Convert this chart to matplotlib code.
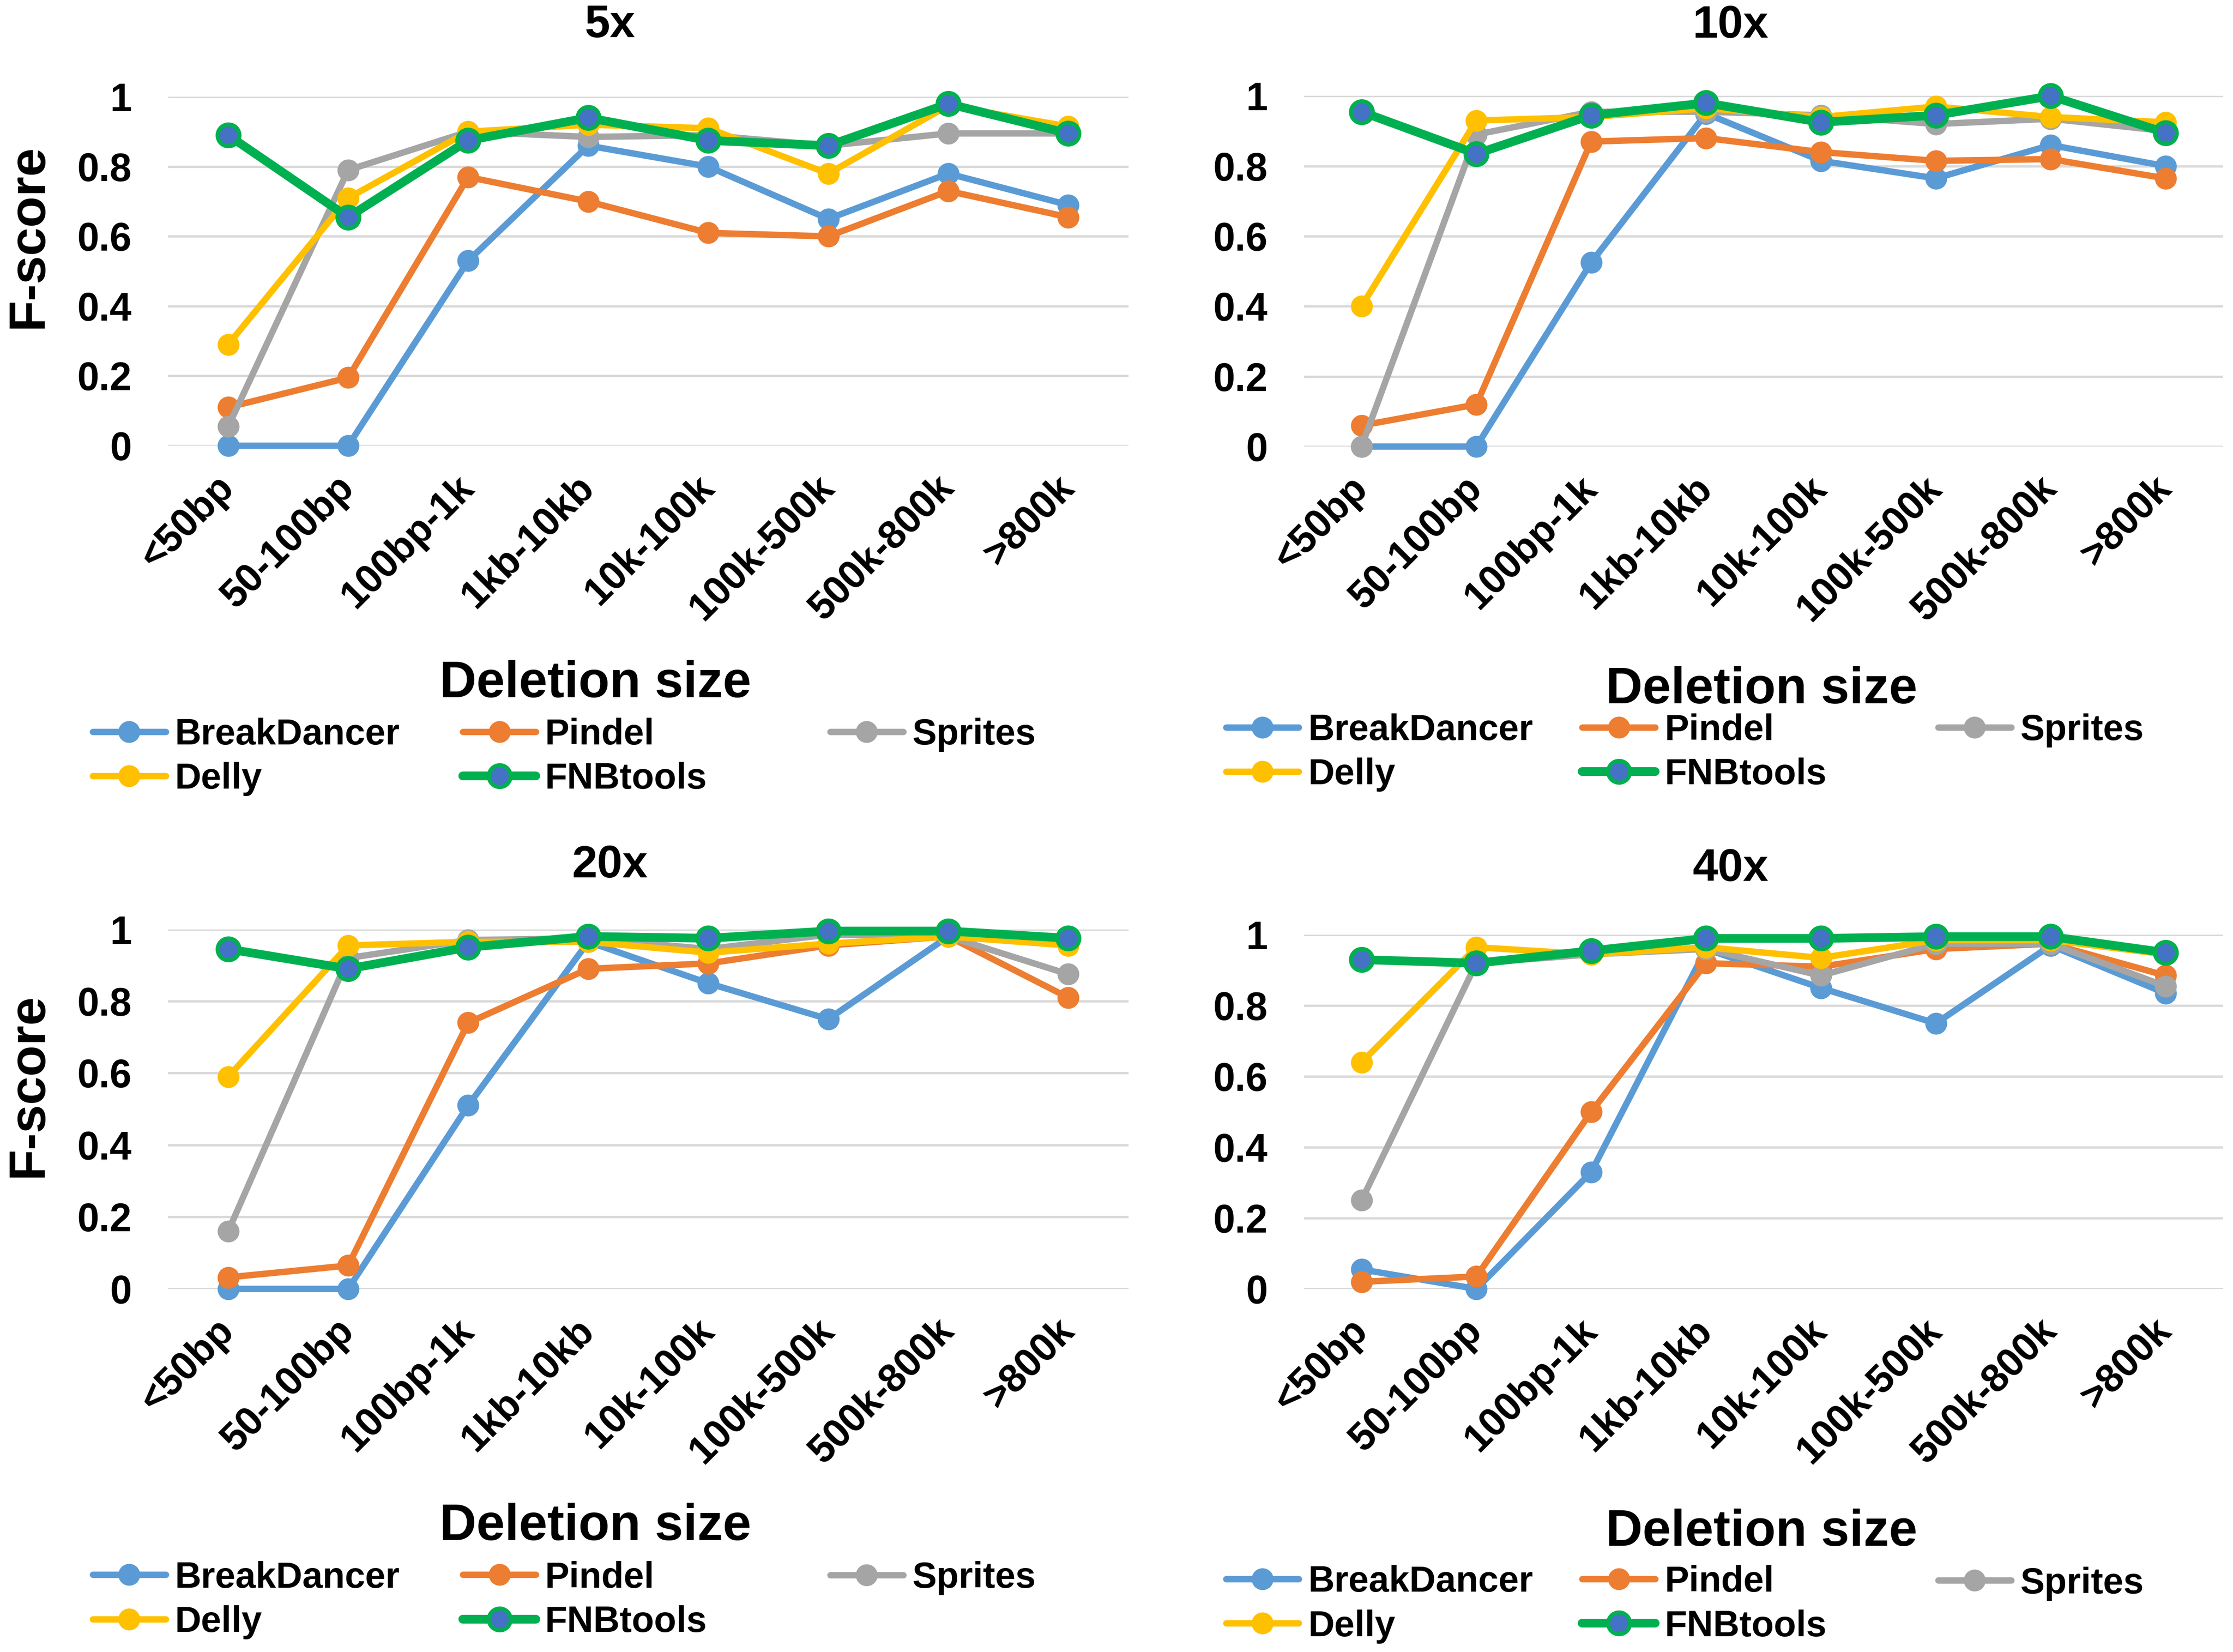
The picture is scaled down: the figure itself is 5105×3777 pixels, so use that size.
import numpy as np
import matplotlib
matplotlib.use("Agg")
import matplotlib.pyplot as plt

# --- style ---
config = {
    "font.family": ["Liberation Sans", "DejaVu Sans"],
    "font.weight": "bold",
    "font.size": 20,
    "axes.titleweight": "bold",
    "axes.labelweight": "bold",
}
plt.rcParams.update(config)

# --- data ---
categories = ["<50bp", "50-100bp", "100bp-1k", "1kb-10kb", "10k-100k",
              "100k-500k", "500k-800k", ">800k"]
tools = ["BreakDancer", "Pindel", "Sprites", "Delly", "FNBtools"]
panel_titles = ["5x", "10x", "20x", "40x"]

bd5 = [0, 0, 0.53, 0.86, 0.80, 0.65, 0.78, 0.69]
pin5 = [0.11, 0.195, 0.77, 0.70, 0.61, 0.60, 0.73, 0.655]
spr5 = [0.055, 0.79, 0.90, 0.885, 0.89, 0.86, 0.895, 0.895]
del5 = [0.29, 0.71, 0.90, 0.92, 0.91, 0.78, 0.975, 0.915]
fnb5 = [0.89, 0.655, 0.875, 0.94, 0.875, 0.86, 0.98, 0.895]

bd10 = [0, 0, 0.525, 0.95, 0.815, 0.765, 0.86, 0.80]
pin10 = [0.06, 0.12, 0.87, 0.88, 0.84, 0.815, 0.82, 0.765]
spr10 = [0, 0.89, 0.955, 0.955, 0.945, 0.92, 0.935, 0.90]
del10 = [0.40, 0.93, 0.94, 0.965, 0.94, 0.97, 0.94, 0.925]
fnb10 = [0.955, 0.835, 0.945, 0.98, 0.925, 0.945, 1.0, 0.895]

bd20 = [0, 0, 0.51, 0.965, 0.85, 0.75, 0.98, 0.965]
pin20 = [0.032, 0.065, 0.74, 0.89, 0.905, 0.955, 0.98, 0.81]
spr20 = [0.16, 0.92, 0.97, 0.975, 0.945, 0.985, 0.98, 0.875]
del20 = [0.59, 0.955, 0.965, 0.965, 0.935, 0.96, 0.98, 0.955]
fnb20 = [0.945, 0.89, 0.95, 0.98, 0.975, 0.995, 0.995, 0.975]

bd40 = [0.055, 0, 0.33, 0.96, 0.85, 0.75, 0.97, 0.835]
pin40 = [0.02, 0.035, 0.50, 0.92, 0.91, 0.96, 0.975, 0.885]
spr40 = [0.25, 0.92, 0.945, 0.96, 0.885, 0.975, 0.975, 0.855]
del40 = [0.64, 0.965, 0.945, 0.965, 0.935, 0.985, 0.985, 0.945]
fnb40 = [0.93, 0.92, 0.955, 0.99, 0.99, 0.995, 0.995, 0.95]

panel_data = [
    [bd5, pin5, spr5, del5, fnb5],
    [bd10, pin10, spr10, del10, fnb10],
    [bd20, pin20, spr20, del20, fnb20],
    [bd40, pin40, spr40, del40, fnb40],
]
yticks = [0, 0.2, 0.4, 0.6, 0.8, 1]

# --- styles ---
line_colors = ["#5B9BD5", "#ED7D31", "#A5A5A5", "#FFC000", "#00B050"]
face_colors = ["#5B9BD5", "#ED7D31", "#A5A5A5", "#FFC000", "#4472C4"]
line_widths = [3.5, 3.5, 3.5, 3.5, 4.8]

# axes rectangles [left, bottom, width, height] in figure fraction
axes_rects = [
    [0.0753, 0.7302, 0.430, 0.2112],
    [0.584, 0.7297, 0.4115, 0.2122],
    [0.0753, 0.2198, 0.430, 0.2177],
    [0.584, 0.2198, 0.4115, 0.2143],
]
title_pos = [(0.46, 1.204), (0.464, 1.20), (0.46, 1.176), (0.464, 1.185)]
xlabel_pos = [(0.445, -0.682), (0.498, -0.695), (0.445, -0.661), (0.498, -0.688)]
legend_cols = [
    [0.0415, 0.2073, 0.3718],
    [0.549, 0.7086, 0.868],
    [0.0415, 0.2073, 0.3718],
    [0.549, 0.7086, 0.868],
]
legend_rows = [
    [0.5552, 0.5284],
    [0.5578, 0.5310],
    [0.0448, 0.0181],
    [0.0414, 0.0164],
]


def draw_panel(ax, series):
    x = np.arange(len(categories))
    handles = []
    for k, vals in enumerate(series):
        ln, = ax.plot(x, vals, color=line_colors[k], lw=line_widths[k],
                      marker="o", ms=12, mfc=face_colors[k],
                      mec=line_colors[k], mew=2.2 if k == 4 else 0,
                      label=tools[k], clip_on=False, zorder=3 + k,
                      solid_joinstyle="round", solid_capstyle="round")
        handles.append(ln)

    ax.set_xlim(-0.5, len(categories) - 0.5)
    ax.set_ylim(0, 1)
    ax.set_yticks(yticks)
    ax.set_yticklabels([f"{v:g}" for v in yticks])
    ax.set_xticks(x)
    ax.set_xticklabels(categories, rotation=45, ha="right", va="center",
                       rotation_mode="anchor")
    ax.tick_params(axis="both", length=0, labelsize=21.5)
    ax.tick_params(axis="y", pad=20)
    ax.tick_params(axis="x", pad=20)
    for s in ax.spines.values():
        s.set_visible(False)
    ax.grid(axis="y", color="#D9D9D9", lw=1.3)
    ax.set_axisbelow(True)
    return handles


fig = plt.figure(figsize=(5105 / 300, 3777 / 300), dpi=300)

for i in range(4):
    ax = fig.add_axes(axes_rects[i])
    handles = draw_panel(ax, panel_data[i])

    ax.text(title_pos[i][0], title_pos[i][1], panel_titles[i],
            transform=ax.transAxes, ha="center", va="center",
            fontsize=25, fontweight="bold")

    ax.set_xlabel("Deletion size", fontsize=28, fontweight="bold")
    ax.xaxis.set_label_coords(*xlabel_pos[i])
    ax.xaxis.label.set_va("center")

    if i % 2 == 0:
        ax.set_ylabel("F-score", fontsize=28, fontweight="bold")
        ax.yaxis.set_label_coords(-0.145, 0.60 if i == 0 else 0.566)
        ax.yaxis.label.set_va("center")

    # legend laid out row-wise like Excel: three single-column legends
    groups = [[0, 3], [1, 4], [2]]
    for c, idx in enumerate(groups):
        hs = [handles[j] for j in idx]
        if len(idx) == 2:
            y = (legend_rows[i][0] + legend_rows[i][1]) / 2
        else:
            y = legend_rows[i][0]
        fig.legend(hs, [h.get_label() for h in hs], loc="center left",
                   bbox_to_anchor=(legend_cols[i][c], y),
                   bbox_transform=fig.transFigure, frameon=False,
                   fontsize=20, handlelength=2.0, handletextpad=0.25,
                   labelspacing=0.28, borderpad=0, borderaxespad=0)

fig.savefig("out.png", dpi=300)
